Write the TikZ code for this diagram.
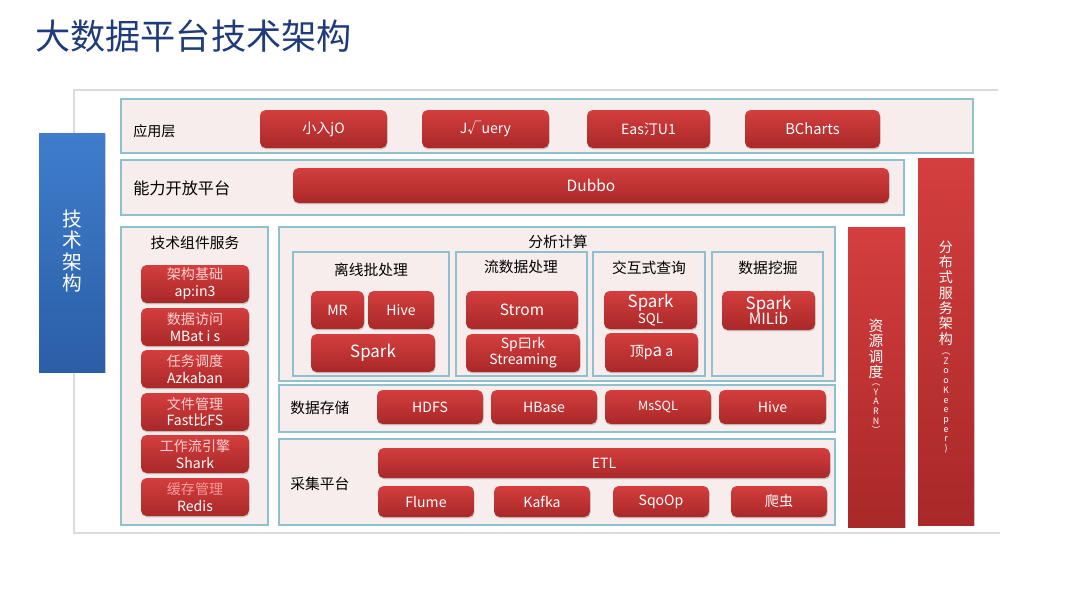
\documentclass[tikz,border=0pt]{standalone}
\usepackage{fontspec}
\setmainfont{Noto Sans CJK SC}
\usetikzlibrary{fit,positioning,shadows}

\definecolor{titleblue}{HTML}{1F3B7A}
\definecolor{bandfill}{HTML}{F8EDED}
\definecolor{bandline}{HTML}{8EC0CF}
\definecolor{btntop}{HTML}{D43E3E}
\definecolor{btnbot}{HTML}{A92828}
\definecolor{bluetop}{HTML}{3F7DCC}
\definecolor{bluebot}{HTML}{2B5EA7}
\definecolor{pinktext}{HTML}{FBD2D2}
\definecolor{rosetext}{HTML}{F79A9A}

\tikzset{
    band/.style={draw=bandline, line width=0.9pt, fill=bandfill, inner sep=0pt,
        drop shadow={opacity=0.18, shadow xshift=0.3pt, shadow yshift=-0.8pt}},
    btn/.style={rounded corners=4pt, top color=btntop, bottom color=btnbot, draw=none,
        drop shadow={opacity=0.35, shadow xshift=0.4pt, shadow yshift=-1pt}, inner sep=0pt},
    btnlabel/.style={text=white, inner sep=0pt, align=center, font=\fontsize{10}{12}\selectfont},
    pillar/.style={top color=btntop, bottom color=btnbot, draw=none, inner sep=0pt,
        drop shadow={opacity=0.3, shadow xshift=0.5pt, shadow yshift=-0.8pt}},
    tag/.style={font=\fontsize{10.5}{12}\selectfont, text=black, inner sep=0pt},
    vtext/.style={text=white, align=center, inner sep=0pt},
    vsmall/.style={text=white, align=center, inner sep=0pt, font=\fontsize{6.3}{6.9}\selectfont},
}

\begin{document}
\begin{tikzpicture}[x=0.025cm, y=-0.025cm]
    \useasboundingbox (0,0) rectangle (1080,608);

    % title
    \node[anchor=west, text=titleblue, inner sep=0pt, font=\fontsize{25}{30}\selectfont]
        (title) at (35,36) {大数据平台技术架构};

    % outer frame
    \draw[gray!28, line width=0.8pt] (998,90) -- (74,90) -- (74,533) -- (1000,533);

    % left bar
    \node[pillar, top color=bluetop, bottom color=bluebot, fit={(39,133) (105,372)}] (arch) {};
    \node[vtext, font=\fontsize{14}{15}\selectfont] (arch-t) at (72,251) {技\\术\\架\\构};

    % application layer
    \node[band, fit={(121,99) (973,153)}] (app) {};
    \node[tag, anchor=west, font=\fontsize{10}{12}\selectfont] (app-t) at (133,131) {应用层};
    \node[btn, fit={(260,110) (387,148)}, label={[btnlabel]center:小入jO}] (vue) {};
    \node[btn, fit={(422,110) (549,148)}, label={[btnlabel]center:J√uery}] (jquery) {};
    \node[btn, fit={(587,110) (710,148)}, label={[btnlabel]center:Eas汀U1}] (easyui) {};
    \node[btn, fit={(745,110) (880,148)}, label={[btnlabel, font=\fontsize{10.5}{12}\selectfont]center:BCharts}] (echarts) {};

    % open platform
    \node[band, fit={(121,160) (904,215)}] (open) {};
    \node[tag, anchor=west, font=\fontsize{11.5}{13}\selectfont] (open-t) at (133,188) {能力开放平台};
    \node[btn, fit={(293,168) (889,203)}, label={[btnlabel, font=\fontsize{11}{12}\selectfont]center:Dubbo}] (dubbo) {};

    % right pillars
    \node[pillar, fit={(918,158) (974,525)}] (dist) {};
    \node[vtext, font=\fontsize{10}{10.9}\selectfont] (dist-t) at (946,293) {分\\布\\式\\服\\务\\架\\构};
    \node[vsmall, below=5pt of dist-t] (dist-z) {︵\\Z\\o\\o\\K\\e\\e\\p\\e\\r\\)};

    \node[pillar, fit={(848,227) (905,527)}] (res) {};
    \node[vtext, font=\fontsize{10.5}{11}\selectfont] (res-t) at (876,349) {资\\源\\调\\度};
    \node[vsmall, below=3pt of res-t] (res-y) {︵\\Y\\A\\R\\N\\︶};

    % component services
    \node[band, fit={(121,227) (268,525)}] (comp) {};
    \node[tag] (comp-t) at (195,243) {技术组件服务};
    \node[btn, fit={(141,265) (249,303)}, label={[btnlabel]center:\textcolor{pinktext}{架构基础}\\ ap:in3}] (frame) {};
    \node[btn, fit={(141,308) (249,346)}, label={[btnlabel]center:\textcolor{pinktext}{数据访问}\\MBat i s}] (access) {};
    \node[btn, fit={(141,350) (249,388)}, label={[btnlabel]center:\textcolor{pinktext}{任务调度}\\Azkaban}] (sched) {};
    \node[btn, fit={(141,393) (249,431)}, label={[btnlabel]center:\textcolor{pinktext}{文件管理}\\Fast比FS}] (files) {};
    \node[btn, fit={(141,435) (249,473)}, label={[btnlabel]center:\textcolor{pinktext}{工作流引擎}\\Shark}] (flow) {};
    \node[btn, fit={(141,478) (249,516)}, label={[btnlabel]center:\textcolor{rosetext}{缓存管理}\\Redis}] (cache) {};

    % analysis
    \node[band, fit={(279,227) (835,381)}] (calc) {};
    \node[tag] (calc-t) at (558,242) {分析计算};

    \node[band, fit={(293,252) (449,376)}] (batch) {};
    \node[tag] (batch-t) at (371,270) {离线批处理};
    \node[btn, fit={(311,291) (364,329)}, label={[btnlabel]center:MR}] (mr) {};
    \node[btn, fit={(368,291) (434,329)}, label={[btnlabel]center:Hive}] (hive-b) {};
    \node[btn, fit={(311,334) (435,372)}, label={[btnlabel, font=\fontsize{12}{13}\selectfont]center:Spark}] (spark-b) {};

    \node[band, fit={(456,252) (587,376)}] (stream) {};
    \node[tag] (stream-t) at (521,267) {流数据处理};
    \node[btn, fit={(466,291) (578,329)}, label={[btnlabel, font=\fontsize{11}{12}\selectfont]center:Strom}] (storm) {};
    \node[btn, fit={(466,334) (580,372)}, label={[btnlabel, font=\fontsize{10}{11.5}\selectfont]center:Sp曰rk\\Streaming}] (sstream) {};

    \node[band, fit={(593,252) (705,376)}] (query) {};
    \node[tag] (query-t) at (649,268) {交互式查询};
    \node[btn, fit={(604,291) (697,329)},
        label={[btnlabel]center:{\fontsize{12}{12}\selectfont Spark}\\[-1pt]{\fontsize{9.5}{10}\selectfont SQL}}] (sql) {};
    \node[btn, fit={(605,333) (698,372)},
        label={[btnlabel]center:顶p{\fontsize{12}{12}\selectfont a} a}] (impala) {};

    \node[band, fit={(712,252) (823,376)}] (mining) {};
    \node[tag] (mining-t) at (768,268) {数据挖掘};
    \node[btn, fit={(722,291) (815,330)},
        label={[btnlabel]center:{\fontsize{12}{12}\selectfont Spark}\\[-1pt]{\fontsize{11}{11}\selectfont MILib}}] (mllib) {};

    % storage
    \node[band, fit={(279,385) (835,432)}] (store) {};
    \node[tag, anchor=west] (store-t) at (290,408) {数据存储};
    \node[btn, fit={(377,390) (483,424)}, label={[btnlabel]center:HDFS}] (hdfs) {};
    \node[btn, fit={(491,390) (597,424)}, label={[btnlabel]center:HBase}] (hbase) {};
    \node[btn, fit={(605,390) (711,424)}, label={[btnlabel, font=\fontsize{9}{10}\selectfont]center:MsSQL}] (mysql) {};
    \node[btn, fit={(719,390) (826,424)}, label={[btnlabel]center:Hive}] (hive-s) {};

    % collection
    \node[band, fit={(279,439) (835,525)}] (collect) {};
    \node[tag, anchor=west] (collect-t) at (290,484) {采集平台};
    \node[btn, fit={(378,448) (830,478)}, label={[btnlabel]center:ETL}] (etl) {};
    \node[btn, fit={(378,486) (474,517)}, label={[btnlabel]center:Flume}] (flume) {};
    \node[btn, fit={(494,486) (590,517)}, label={[btnlabel]center:Kafka}] (kafka) {};
    \node[btn, fit={(613,486) (709,517)}, label={[btnlabel]center:SqoOp}] (sqoop) {};
    \node[btn, fit={(731,486) (827,517)}, label={[btnlabel]center:爬虫}] (crawler) {};
\end{tikzpicture}
\end{document}
